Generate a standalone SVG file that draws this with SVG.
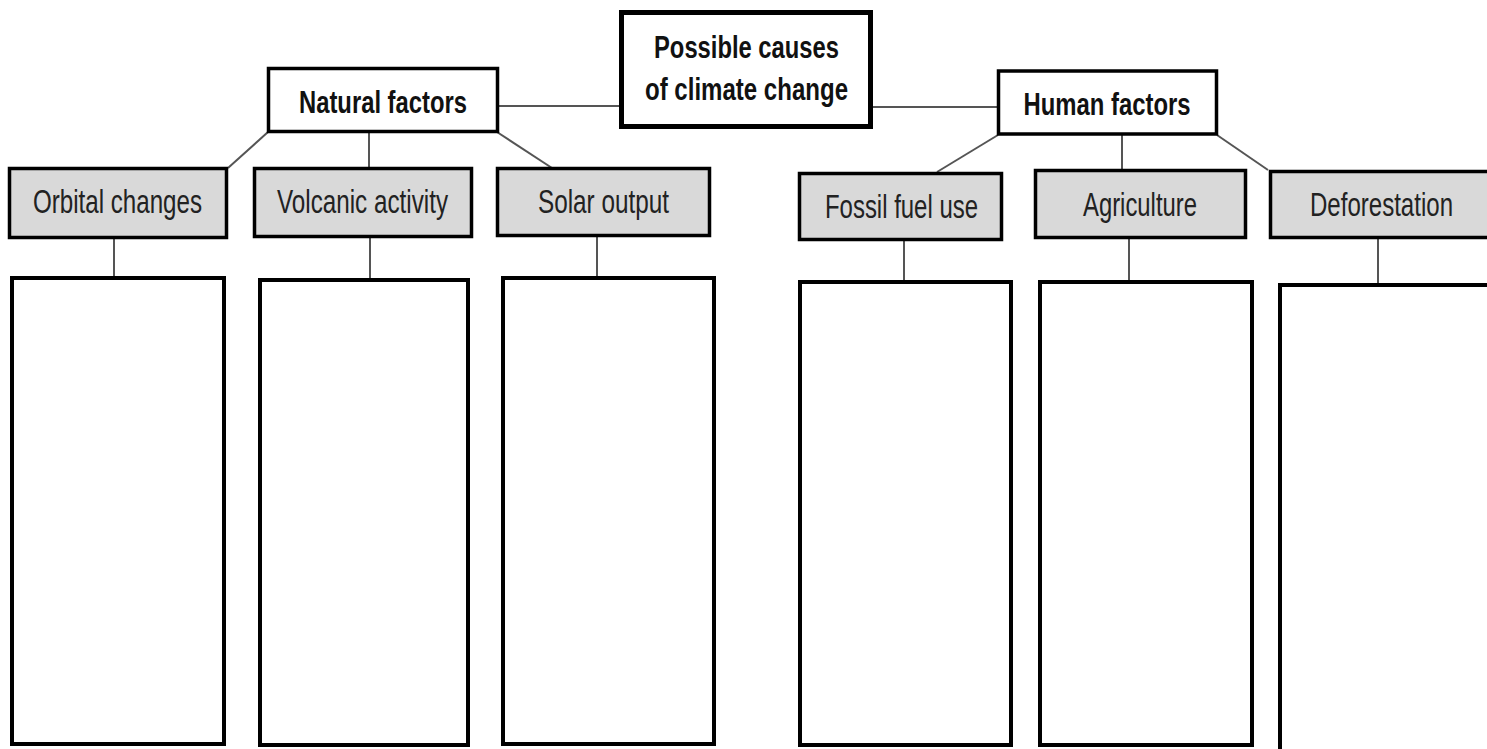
<svg xmlns="http://www.w3.org/2000/svg" width="1487" height="749" viewBox="0 0 1487 749">
<style>
.top{fill:#fff;stroke:#000;stroke-width:3.5}
.ctr{fill:#fff;stroke:#000;stroke-width:5}
.cat{fill:#d9d9d9;stroke:#000;stroke-width:3.5}
.blank{fill:#fff;stroke:#000;stroke-width:4}
.con{stroke:#555;stroke-width:2;fill:none}
.b{font-family:"Liberation Sans",Arial,sans-serif;font-weight:bold;font-size:31px;fill:#111;text-anchor:middle}
.r{font-family:"Liberation Sans",Arial,sans-serif;font-size:33px;fill:#222;text-anchor:middle}
</style>
<rect width="1487" height="749" fill="#fff"/>
<g id="connectors">
<line class="con" x1="499" y1="106" x2="620" y2="106"/>
<line class="con" x1="872" y1="107" x2="998" y2="107"/>
<line class="con" x1="268" y1="132" x2="228" y2="168"/>
<line class="con" x1="369" y1="132" x2="369" y2="168"/>
<line class="con" x1="497" y1="132" x2="552" y2="168"/>
<line class="con" x1="998" y1="135" x2="937" y2="172"/>
<line class="con" x1="1122" y1="135" x2="1122" y2="170"/>
<line class="con" x1="1217" y1="135" x2="1268" y2="170"/>
<line class="con" x1="114" y1="238" x2="114" y2="277"/>
<line class="con" x1="370" y1="237" x2="370" y2="279"/>
<line class="con" x1="597" y1="236" x2="597" y2="277"/>
<line class="con" x1="904" y1="240" x2="904" y2="281"/>
<line class="con" x1="1129" y1="238" x2="1129" y2="282"/>
<line class="con" x1="1378" y1="238" x2="1378" y2="284"/>
</g>
<g id="root">
<rect class="ctr" x="621.5" y="12.5" width="249" height="114"/>
<text class="b" x="746.5" y="58" textLength="185" lengthAdjust="spacingAndGlyphs">Possible causes</text>
<text class="b" x="746.5" y="100" textLength="203" lengthAdjust="spacingAndGlyphs">of climate change</text>
</g>
<g id="natural">
<rect class="top" x="268.5" y="68.5" width="229" height="63"/>
<text class="b" x="383" y="113" textLength="168" lengthAdjust="spacingAndGlyphs">Natural factors</text>
</g>
<g id="human">
<rect class="top" x="998.5" y="71" width="218" height="63"/>
<text class="b" x="1107" y="115" textLength="167" lengthAdjust="spacingAndGlyphs">Human factors</text>
</g>
<g id="orbital">
<rect class="cat" x="9.5" y="168.5" width="217" height="69"/>
<text class="r" x="117.5" y="213" textLength="169" lengthAdjust="spacingAndGlyphs">Orbital changes</text>
</g>
<g id="volcanic">
<rect class="cat" x="254.5" y="168.5" width="217" height="68"/>
<text class="r" x="362.5" y="213" textLength="171" lengthAdjust="spacingAndGlyphs">Volcanic activity</text>
</g>
<g id="solar">
<rect class="cat" x="497.5" y="168.5" width="212" height="67"/>
<text class="r" x="603.5" y="213" textLength="131" lengthAdjust="spacingAndGlyphs">Solar output</text>
</g>
<g id="fossil">
<rect class="cat" x="799.5" y="173.5" width="202" height="66"/>
<text class="r" x="901.5" y="218" textLength="153" lengthAdjust="spacingAndGlyphs">Fossil fuel use</text>
</g>
<g id="agriculture">
<rect class="cat" x="1035.5" y="170.5" width="210" height="67"/>
<text class="r" x="1140" y="216" textLength="114" lengthAdjust="spacingAndGlyphs">Agriculture</text>
</g>
<g id="deforestation">
<rect x="1270.5" y="171.5" width="216.5" height="66" fill="#d9d9d9"/>
<path class="con" style="stroke:#000;stroke-width:3.5" d="M1487 171.5 H1270.5 V237.5 H1487"/>
<text class="r" x="1381.5" y="216" textLength="143" lengthAdjust="spacingAndGlyphs">Deforestation</text>
</g>
<g id="box-orbital"><rect class="blank" x="12" y="278" width="212" height="466"/></g>
<g id="box-volcanic"><rect class="blank" x="260" y="280" width="208" height="465"/></g>
<g id="box-solar"><rect class="blank" x="503" y="278" width="211" height="466"/></g>
<g id="box-fossil"><rect class="blank" x="800" y="282" width="211" height="463"/></g>
<g id="box-agriculture"><rect class="blank" x="1040" y="282" width="212" height="463"/></g>
<g id="box-deforestation"><path class="con" style="stroke:#000;stroke-width:4" d="M1487 285 H1280 V749"/></g>
</svg>
